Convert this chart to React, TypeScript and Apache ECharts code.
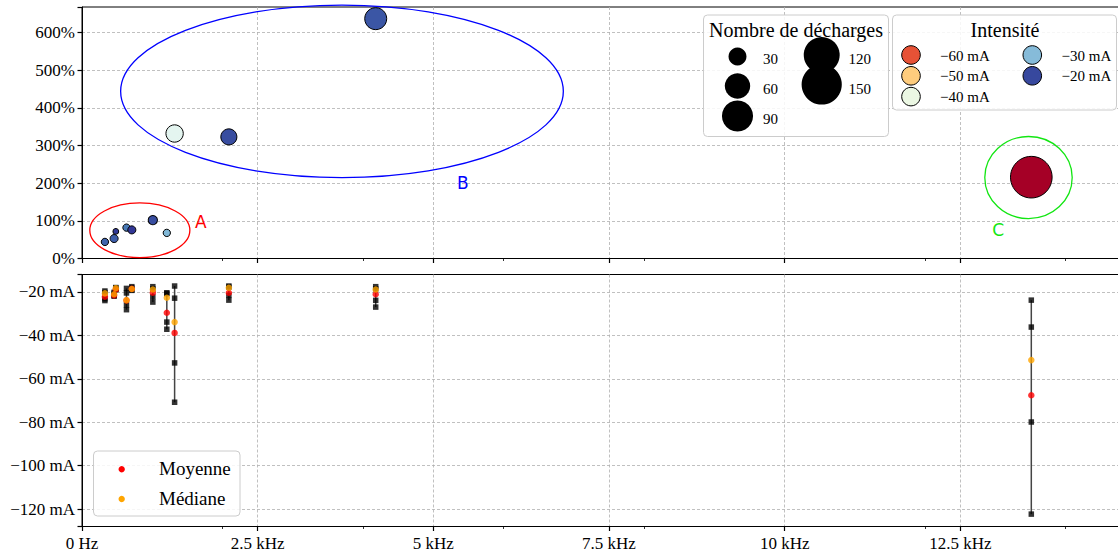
import React, { useEffect, useRef } from 'react';
import * as echarts from 'echarts';

// ---- data ----
const freqKHz = [0.326, 0.457, 0.481, 0.633, 0.709, 1.008, 1.207, 1.318, 2.09, 4.18, 13.51];
const relPct = [44, 53, 72, 82, 76, 102, 68, 332, 323, 637, 216];
const counts = [5, 6, 3, 5, 6, 8, 5, 28, 24, 45, 161];
const meanMA = [-22.2, -21.6, -18.9, -23.9, -18.6, -20.4, -29.6, -38.9, -20.4, -21.1, -67.6];
const medianMA = [-20.7, -21.1, -18.3, -23.8, -18.7, -18.9, -22.7, -33.9, -18.1, -18.9, -51.4];
const maxMA = [-19.6, -20.2, -18.0, -18.4, -17.6, -17.6, -20.4, -17.3, -17.3, -17.6, -23.8];
const q3MA = [-20.3, -20.7, -18.2, -20.5, -18.2, -18.6, -20.8, -22.9, -17.8, -18.6, -36.2];
const q1MA = [-23.2, -21.6, -18.8, -26.0, -19.0, -22.3, -33.9, -52.7, -21.6, -23.9, -79.9];
const minMA = [-24.0, -22.0, -19.0, -28.2, -19.3, -24.7, -37.2, -70.8, -23.8, -27.0, -122.3];

const groupNames = ['A', 'B', 'C'];
const groupCx = [0.823, 3.70, 13.47];
const groupCy = [75, 444, 215];
const groupRx = [0.712, 3.15, 0.622];
const groupRy = [72.5, 229, 109];
const groupLabelX = [1.69, 5.42, 13.04];
const groupLabelY = [97, 201, 75];
const groupColors = ['#ff0000', '#0000ff', '#12e612'];

const sizeLegendCounts = [30, 60, 90, 120, 150];
const intensityLegend = [-60, -50, -40, -30, -20];

// tick labels
const xTickValues = [0, 2.5, 5, 7.5, 10, 12.5];
const yTopTicks = [0, 100, 200, 300, 400, 500, 600];
const yBottomTicks = [-20, -40, -60, -80, -100, -120];

const RdYlBu = ['#a50026', '#d73027', '#f46d43', '#fdae61', '#fee090', '#ffffbf',
  '#e0f3f8', '#abd9e9', '#74add1', '#4575b4', '#313695'];

const serif = 'Liberation Serif';
const vmin = Math.min(...meanMA);
const vmax = Math.max(...meanMA);
const bubbleR = (n: number) => 1.64 * Math.sqrt(n);

function hexToRgb(h: string) {
  return [parseInt(h.slice(1, 3), 16), parseInt(h.slice(3, 5), 16), parseInt(h.slice(5, 7), 16)];
}
function cmap(v: number) {
  let t = (v - vmin) / (vmax - vmin);
  t = Math.max(0, Math.min(1, t));
  const p = t * (RdYlBu.length - 1);
  const i = Math.min(Math.floor(p), RdYlBu.length - 2);
  const f = p - i;
  const a = hexToRgb(RdYlBu[i]);
  const b = hexToRgb(RdYlBu[i + 1]);
  const c = a.map((x, k) => Math.round(x + (b[k] - x) * f));
  return `rgb(${c[0]},${c[1]},${c[2]})`;
}

function txt(text: string, x: number, y: number, size: number, align = 'left', vAlign = 'middle', family = serif, fill = '#000') {
  return {
    type: 'text', x, y, z: 101,
    style: {
      text, fill, fontSize: size, fontFamily: family,
      align, verticalAlign: vAlign, textAlign: align, textVerticalAlign: vAlign,
    },
  };
}

function buildGraphics() {
  const g: any[] = [];
  // legend: Nombre de décharges
  g.push({ type: 'rect', z: 100, shape: { x: 703.5, y: 15, width: 185, height: 121.5, r: 4 },
    style: { fill: 'rgba(255,255,255,0.85)', stroke: '#cccccc', lineWidth: 1 } });
  g.push(txt('Nombre de décharges', 796, 30, 20, 'center'));
  const rows1 = [56.5, 86, 116];
  sizeLegendCounts.forEach((n, i) => {
    const col = i < 3 ? 0 : 1;
    const row = i < 3 ? i : i - 3;
    const cx = col === 0 ? 737.5 : 821.7;
    const cy = rows1[row] - (col === 1 ? 1.5 : 0);
    g.push({ type: 'circle', z: 101, shape: { cx, cy, r: bubbleR(n) }, style: { fill: '#000' } });
    g.push(txt(String(n), col === 0 ? 763 : 848.5, rows1[row] + 2.5, 15));
  });
  // legend: Intensité
  g.push({ type: 'rect', z: 100, shape: { x: 892.5, y: 15, width: 224, height: 95, r: 4 },
    style: { fill: 'rgba(255,255,255,0.85)', stroke: '#cccccc', lineWidth: 1 } });
  g.push(txt('Intensité', 1005, 30, 20, 'center'));
  const rows2 = [55, 75.8, 96.6];
  intensityLegend.forEach((v, i) => {
    const col = i < 3 ? 0 : 1;
    const row = i < 3 ? i : i - 3;
    const cx = col === 0 ? 911 : 1032.3;
    g.push({ type: 'circle', z: 101, shape: { cx, cy: rows2[row], r: 9.3 },
      style: { fill: cmap(v), stroke: '#000', lineWidth: 1 } });
    g.push(txt(`\u2212${Math.abs(v)} mA`, col === 0 ? 940 : 1061.5, rows2[row] + 0.5, 15));
  });
  // legend: Moyenne / Médiane
  g.push({ type: 'rect', z: 100, shape: { x: 93.5, y: 451, width: 146.5, height: 65, r: 4 },
    style: { fill: 'rgba(255,255,255,0.85)', stroke: '#cccccc', lineWidth: 1 } });
  g.push({ type: 'circle', z: 101, shape: { cx: 121.7, cy: 469.3, r: 3.2 }, style: { fill: '#ff0000' } });
  g.push({ type: 'circle', z: 101, shape: { cx: 121.7, cy: 499, r: 3.2 }, style: { fill: '#ffa500' } });
  g.push(txt('Moyenne', 159, 468.5, 19));
  g.push(txt('Médiane', 159, 498, 19));
  return g;
}

const splitDashed = { show: true, showMinLine: false, showMaxLine: false,
  lineStyle: { color: '#b0b0b0', type: [3, 2], width: 0.8 } };
const axisLineBlack = { show: true, onZero: false, lineStyle: { color: '#000', width: 1 } };
const majorTick = { show: true, length: 4.5, inside: false, lineStyle: { color: '#000', width: 1.2 } };

function buildOption(): any {
  const bubbleData = freqKHz.map((f, i) => [f, relPct[i], counts[i], meanMA[i]]);
  const quartData: number[][] = [];
  freqKHz.forEach((f, i) => {
    quartData.push([f, maxMA[i]], [f, q3MA[i]], [f, q1MA[i]], [f, minMA[i]]);
  });
  const groupData = groupNames.map((_, i) => [groupCx[i], groupCy[i], groupRx[i], groupRy[i], groupLabelX[i], groupLabelY[i]]);

  const minorX = (gridIndex: number) => ({
    gridIndex, type: 'value', min: 0, max: 15, interval: 2, position: 'bottom',
    axisLine: { show: false }, axisLabel: { show: false }, splitLine: { show: false },
    axisTick: { show: true, length: 2.5, lineStyle: { color: '#000', width: 0.8 } },
  });

  return {
    animation: false,
    backgroundColor: '#ffffff',
    grid: [
      { left: 82, top: 7, width: 1054, height: 251.5, show: true, borderColor: '#000', borderWidth: 1 },
      { left: 82, top: 274.5, width: 1054, height: 252, show: true, borderColor: '#000', borderWidth: 1 },
    ],
    xAxis: [
      { gridIndex: 0, type: 'value', min: 0, max: 15, interval: 2.5, axisLine: axisLineBlack,
        axisTick: majorTick, axisLabel: { show: false }, splitLine: splitDashed },
      { gridIndex: 1, type: 'value', min: 0, max: 15, interval: 2.5, axisLine: axisLineBlack,
        axisTick: majorTick, splitLine: splitDashed, axisLabel: { show: false } },
      minorX(0),
      minorX(1),
    ],
    yAxis: [
      { gridIndex: 0, type: 'value', min: 0, max: 668, interval: 100, axisLine: axisLineBlack,
        axisTick: majorTick, splitLine: splitDashed, axisLabel: { show: false } },
      { gridIndex: 1, type: 'value', min: -128, max: -12, axisLine: axisLineBlack,
        axisTick: majorTick, splitLine: splitDashed, axisLabel: { show: false } },
    ],
    visualMap: {
      type: 'continuous', show: false, seriesIndex: 0, dimension: 3,
      min: vmin, max: vmax, inRange: { color: RdYlBu },
    },
    series: [
      {
        name: 'bulles', type: 'scatter', xAxisIndex: 0, yAxisIndex: 0, z: 5,
        data: bubbleData,
        symbolSize: (v: number[]) => 2 * bubbleR(v[2]),
        itemStyle: { borderColor: '#000', borderWidth: 1, opacity: 1 },
      },
      {
        name: 'groupes', type: 'custom', xAxisIndex: 0, yAxisIndex: 0, z: 3, silent: true,
        data: groupData,
        renderItem: (params: any, api: any) => {
          const i = params.dataIndex;
          const c = api.coord([api.value(0), api.value(1)]);
          const s = api.size([api.value(2), api.value(3)]);
          const l = api.coord([api.value(4), api.value(5)]);
          return {
            type: 'group',
            children: [
              { type: 'ellipse', shape: { cx: c[0], cy: c[1], rx: s[0], ry: s[1] },
                style: { fill: 'none', stroke: groupColors[i], lineWidth: 1.3 } },
              { type: 'text', x: l[0], y: l[1],
                style: { text: groupNames[i], fill: groupColors[i], fontSize: 17,
                  fontFamily: 'DejaVu Sans', align: 'center', verticalAlign: 'middle',
                  textAlign: 'center', textVerticalAlign: 'middle' } },
            ],
          };
        },
      },
      {
        name: 'étendue', type: 'custom', xAxisIndex: 1, yAxisIndex: 1, z: 2, silent: true,
        data: freqKHz.map((f, i) => [f, minMA[i], maxMA[i]]),
        renderItem: (_p: any, api: any) => {
          const a = api.coord([api.value(0), api.value(1)]);
          const b = api.coord([api.value(0), api.value(2)]);
          return { type: 'line', shape: { x1: a[0], y1: a[1], x2: b[0], y2: b[1] },
            style: { stroke: '#444444', lineWidth: 1.5 } };
        },
      },
      {
        name: 'Quartiles', type: 'scatter', xAxisIndex: 1, yAxisIndex: 1, z: 3,
        symbol: 'rect', symbolSize: 5.5, itemStyle: { color: '#000' }, data: quartData,
      },
      {
        name: 'Moyenne', type: 'scatter', xAxisIndex: 1, yAxisIndex: 1, z: 4,
        symbol: 'circle', symbolSize: 6.5, itemStyle: { color: '#ff0000' },
        data: freqKHz.map((f, i) => [f, meanMA[i]]),
      },
      {
        name: 'Médiane', type: 'scatter', xAxisIndex: 1, yAxisIndex: 1, z: 5,
        symbol: 'circle', symbolSize: 6.5, itemStyle: { color: '#ffa500' },
        data: freqKHz.map((f, i) => [f, medianMA[i]]),
      },
    ],
    graphic: buildGraphics(),
  };
}

function tickLabels(chart: any) {
  const out: any[] = [];
  const bottomY = -128;
  xTickValues.forEach((v) => {
    const p = chart.convertToPixel({ gridIndex: 1 }, [v, bottomY]);
    if (p) out.push(txt(v === 0 ? '0 Hz' : `${v} kHz`, p[0], p[1] + 8, 17, 'center', 'top'));
  });
  yTopTicks.forEach((v) => {
    const p = chart.convertToPixel({ gridIndex: 0 }, [0, v]);
    if (p) out.push(txt(`${v}%`, p[0] - 7, p[1], 17, 'right', 'middle'));
  });
  yBottomTicks.forEach((v) => {
    const p = chart.convertToPixel({ gridIndex: 1 }, [0, v]);
    if (p) out.push(txt(`\u2212${Math.abs(v)} mA`, p[0] - 7, p[1], 17, 'right', 'middle'));
  });
  return out;
}

export default function App() {
  const ref = useRef<HTMLDivElement>(null);
  useEffect(() => {
    document.body.style.margin = '0';
    document.body.style.overflow = 'hidden';
    document.documentElement.style.overflow = 'hidden';
    const chart = echarts.init(ref.current as HTMLDivElement, null, { renderer: 'svg' });
    chart.setOption(buildOption());
    try {
      const labels = tickLabels(chart);
      chart.setOption({ graphic: [...buildGraphics(), ...labels] });
    } catch (e) {
      // keep chart without extra labels
    }
    return () => chart.dispose();
  }, []);
  return <div ref={ref} style={{ width: 1150, height: 552 }} />;
}
